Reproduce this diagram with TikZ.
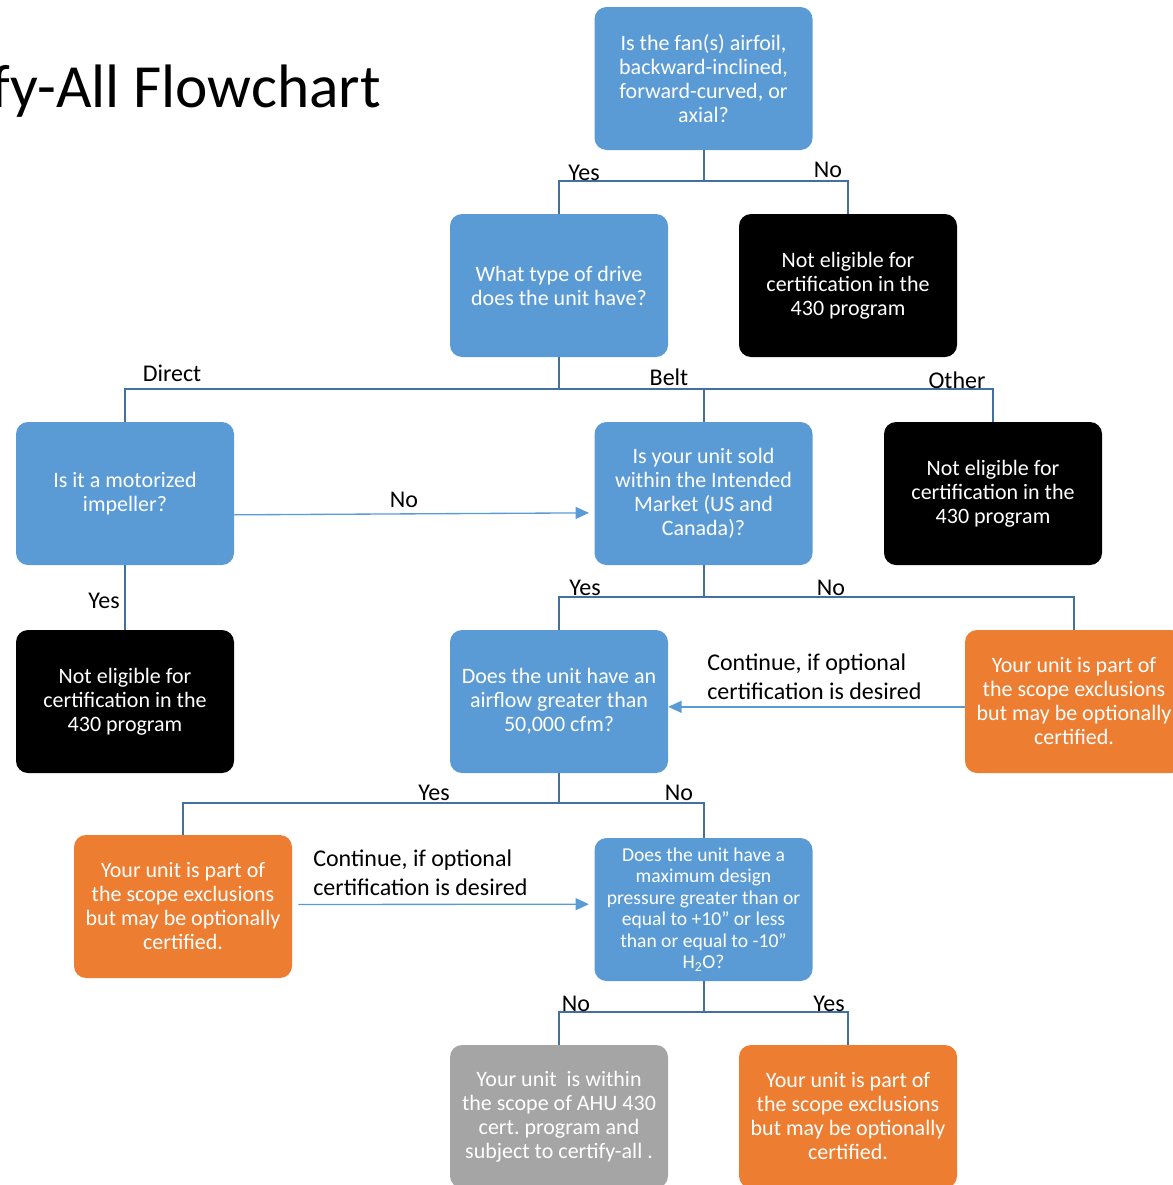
\documentclass[tikz,border=0pt]{standalone}
\usepackage{fontspec}
\setmainfont{Carlito}
\usetikzlibrary{arrows.meta}
\definecolor{boxblue}{HTML}{5B9BD5}
\definecolor{boxorange}{HTML}{ED7D31}
\definecolor{boxgrey}{HTML}{A5A5A5}
\definecolor{treeblue}{HTML}{41719C}
\frenchspacing

\begin{document}
\begin{tikzpicture}[x=0.75pt, y=-0.75pt,
    box/.style={rounded corners=9pt, minimum width=163.5pt, minimum height=107.25pt,
      align=center, text=white, inner sep=2pt, font=\fontsize{16.5}{18}\selectfont},
    qbox/.style={box, fill=boxblue},
    nobox/.style={box, fill=black},
    exbox/.style={box, fill=boxorange},
    okbox/.style={box, fill=boxgrey},
    tree/.style={treeblue, line width=1.5pt},
    flow/.style={boxblue, line width=1pt, -{Triangle[length=10pt, width=9pt]}},
    lbl/.style={font=\fontsize{18}{21.6}\selectfont, inner sep=0pt}]
    \useasboundingbox (0,0) rectangle (1172,1185);

    \node[anchor=base east, inner sep=0pt, font=\fontsize{46}{50}\selectfont] (title) at (381,107) {fy-All Flowchart};

    \node[qbox] (fan) at (703.5,78.5) {Is the fan(s) airfoil,\\backward-inclined,\\forward-curved, or\\axial?};
    \node[qbox] (drive) at (559,285.5) {What type of drive\\does the unit have?};
    \node[nobox] (notA) at (848,285.5) {Not eligible for\\certification in the\\430 program};
    \node[qbox] (motor) at (125,493.5) {Is it a motorized\\impeller?};
    \node[qbox] (market) at (703.5,493.5) {Is your unit sold\\within the Intended\\Market (US and\\Canada)?};
    \node[nobox] (notB) at (993,493.5) {Not eligible for\\certification in the\\430 program};
    \node[nobox] (notC) at (125,701.5) {Not eligible for\\certification in the\\430 program};
    \node[qbox] (airflow) at (559,701.5) {Does the unit have an\\airflow greater than\\50,000 cfm?};
    \node[exbox] (exclA) at (1074,701.5) {Your unit is part of\\the scope exclusions\\but may be optionally\\certified.};
    \node[exbox] (exclB) at (183,906.5) {Your unit is part of\\the scope exclusions\\but may be optionally\\certified.};
    \node[qbox, font=\fontsize{14.7}{16.1}\selectfont] (press) at (703.5,909.5) {Does the unit have a\\maximum design\\pressure greater than or\\equal to +10” or less\\than or equal to -10”\\H\textsubscript{2}O?};
    \node[okbox] (inscope) at (559,1116.5) {Your unit\ \ is within\\the scope of AHU 430\\cert. program and\\subject to certify-all .};
    \node[exbox] (exclC) at (848,1116.5) {Your unit is part of\\the scope exclusions\\but may be optionally\\certified.};

    \draw[tree] (fan.south) -- ++(0,31) coordinate (j1);
    \draw[tree] (j1) -| (drive.north);
    \draw[tree] (j1) -| (notA.north);
    \draw[tree] (drive.south) -- ++(0,32) coordinate (j2);
    \draw[tree] (j2) -| (motor.north);
    \draw[tree] (j2) -| (market.north);
    \draw[tree] (j2) -| (notB.north);
    \draw[tree] (motor.south) -- (notC.north);
    \draw[tree] (market.south) -- ++(0,32) coordinate (j3);
    \draw[tree] (j3) -| (airflow.north);
    \draw[tree] (j3) -| (exclA.north);
    \draw[tree] (airflow.south) -- ++(0,30) coordinate (j4);
    \draw[tree] (j4) -| (exclB.north);
    \draw[tree] (j4) -| (press.north);
    \draw[tree] (press.south) -- ++(0,31) coordinate (j5);
    \draw[tree] (j5) -| (inscope.north);
    \draw[tree] (j5) -| (exclC.north);

    \draw[flow, shorten >=4pt] ([yshift=-16pt]motor.east) -- ([yshift=-14.5pt]market.west);
    \draw[flow] ([yshift=-4pt]exclA.west) -- ([yshift=-4pt]airflow.east);
    \draw[flow, shorten >=4pt] ([xshift=4.5pt, yshift=1.5pt]exclB.east) -- ([yshift=4pt]press.west);

    \node[lbl] (yesA) at (584,173) {Yes};
    \node[lbl] (noA) at (828,170) {No};
    \node[lbl] (direct) at (172,373) {Direct};
    \node[lbl] (belt) at (669,377) {Belt};
    \node[lbl] (other) at (957,380) {Other};
    \node[lbl] (noB) at (404,500) {No};
    \node[lbl] (yesB) at (104,601) {Yes};
    \node[lbl] (yesC) at (585,588) {Yes};
    \node[lbl] (noC) at (831,588) {No};
    \node[lbl, align=left, anchor=west] (contA) at (707,676.5) {Continue, if optional\\certification is desired};
    \node[lbl] (yesD) at (434,793) {Yes};
    \node[lbl] (noD) at (679,793) {No};
    \node[lbl, align=left, anchor=west] (contB) at (313,872.5) {Continue, if optional\\certification is desired};
    \node[lbl] (noE) at (576,1004) {No};
    \node[lbl] (yesE) at (829,1004) {Yes};
\end{tikzpicture}
\end{document}
